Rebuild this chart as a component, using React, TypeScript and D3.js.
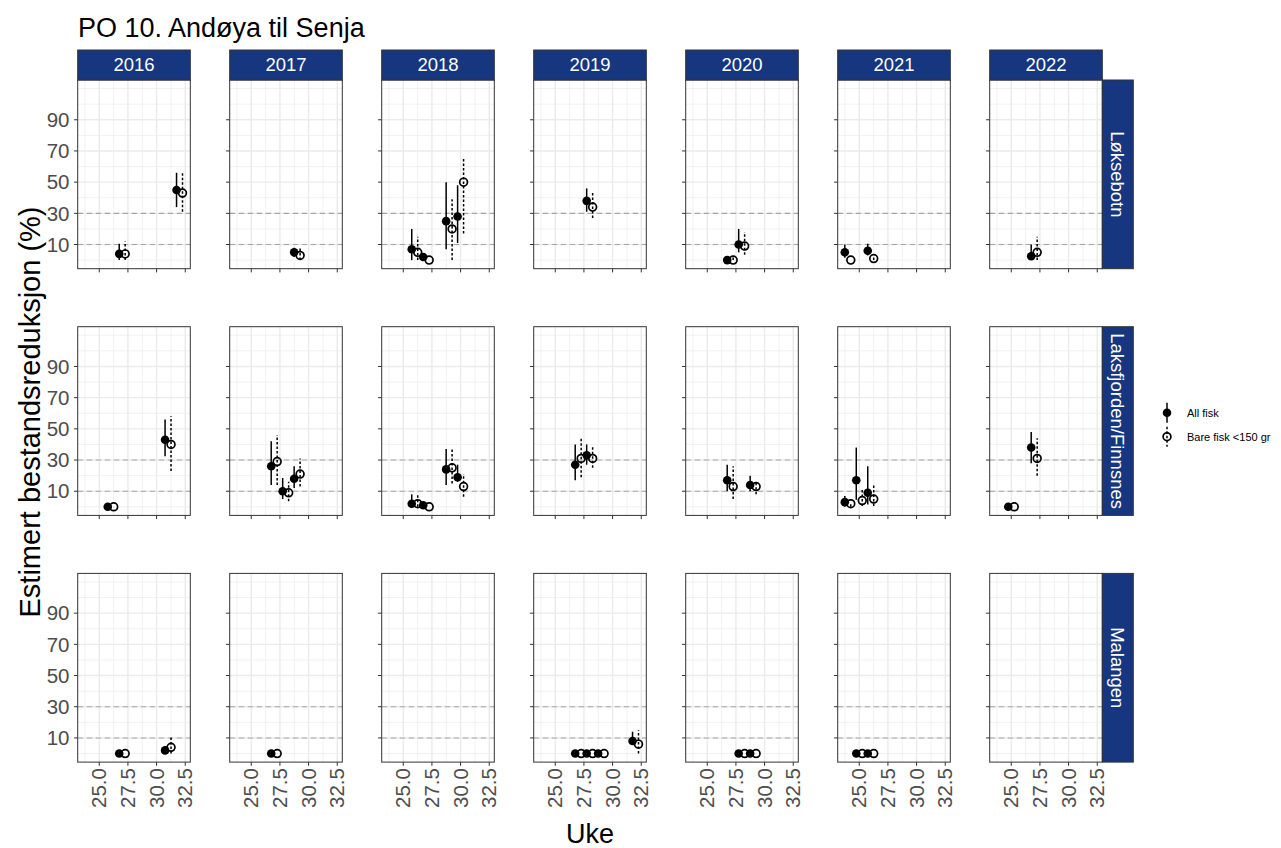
import React from "react";
import * as d3 from "d3";

const title = "PO 10. Andøya til Senja";
const yTitle = "Estimert bestandsreduksjon (%)";
const xTitle = "Uke";
const years = [2016, 2017, 2018, 2019, 2020, 2021, 2022];
const sites = ["Løksebotn", "Laksfjorden/Finnsnes", "Malangen"];
const groups = ["All fisk", "Bare fisk <150 gr"];
const yTicks = [10, 30, 50, 70, 90];
const yMinor = [0, 20, 40, 60, 80, 100, 110];
const xTicks = [25, 27.5, 30, 32.5];
const xMinor = [23.75, 26.25, 28.75, 31.25];
const refLines = [10, 30];

// rows: [year, week, estimate, lower, upper]
const loksebotnAll = [
  [2016, 27, 4, 0, 10.5], [2016, 32, 45, 34, 56],
  [2017, 29, 5, 2, 8],
  [2018, 26, 7, 0, 20], [2018, 27, 2, 0, 4], [2018, 29, 25, 7, 50], [2018, 30, 28, 11, 48],
  [2019, 28, 38, 31, 46],
  [2020, 27, 0, 0, 0], [2020, 28, 10, 5, 20],
  [2021, 24, 5, 1.5, 10], [2021, 26, 6, 3, 10.5],
  [2022, 27, 2.5, 0, 10],
];
const loksebotnSmall = [
  [2016, 27, 4, 0, 12], [2016, 32, 43, 31, 56],
  [2017, 29, 3, 0, 8],
  [2018, 26, 5, 0, 15], [2018, 27, 0, 0, 0], [2018, 29, 20, 0, 39], [2018, 30, 50, 17, 66],
  [2019, 28, 34, 27, 44],
  [2020, 27, 0, 0, 2], [2020, 28, 9, 3.5, 18],
  [2021, 24, 0, 0, 0], [2021, 26, 1, 0, 3],
  [2022, 27, 5, 0, 15],
];
const laksfjordenAll = [
  [2016, 26, 0, 0, 0], [2016, 31, 43, 32.5, 56],
  [2017, 27, 26, 14, 42], [2017, 28, 10, 5, 18.5], [2017, 29, 18, 12, 26],
  [2018, 26, 2, 0, 8], [2018, 27, 1, 0, 2], [2018, 29, 24, 14, 37], [2018, 30, 19, 16, 27],
  [2019, 27, 27, 17, 40], [2019, 28, 33, 27, 40],
  [2020, 27, 17, 10, 27], [2020, 29, 14, 10, 20],
  [2021, 24, 3, 0, 7], [2021, 25, 17, 4.5, 38], [2021, 26, 9, 1.5, 26],
  [2022, 25, 0, 0, 0], [2022, 27, 38, 28, 48],
];
const laksfjordenSmall = [
  [2016, 26, 0, 0, 0], [2016, 31, 40, 23, 58],
  [2017, 27, 29, 14, 46], [2017, 28, 9, 3.5, 16], [2017, 29, 21, 13, 31],
  [2018, 26, 2, 0, 8], [2018, 27, 0, 0, 0], [2018, 29, 25, 15, 37], [2018, 30, 13, 6.5, 21],
  [2019, 27, 31, 19, 44.5], [2019, 28, 31, 25, 39],
  [2020, 27, 13, 5, 26], [2020, 29, 13, 8, 16],
  [2021, 24, 2, 0, 3], [2021, 25, 4, 0.5, 11.5], [2021, 26, 5, 0.5, 14],
  [2022, 25, 0, 0, 0], [2022, 27, 31, 20, 44],
];
const malangenAll = [
  [2016, 27, 0, 0, 0], [2016, 31, 2, 0, 4],
  [2017, 27, 0, 0, 0],
  [2019, 27, 0, 0, 0], [2019, 28, 0, 0, 0], [2019, 29, 0, 0, 0], [2019, 32, 8, 6, 14],
  [2020, 28, 0, 0, 0], [2020, 29, 0, 0, 0],
  [2021, 25, 0, 0, 0], [2021, 26, 0, 0, 0],
];
const malangenSmall = [
  [2016, 27, 0, 0, 0], [2016, 31, 4, 0, 11],
  [2017, 27, 0, 0, 0],
  [2019, 27, 0, 0, 0], [2019, 28, 0, 0, 0], [2019, 29, 0, 0, 0], [2019, 32, 6, 0, 15],
  [2020, 28, 0, 0, 0], [2020, 29, 0, 0, 0],
  [2021, 25, 0, 0, 0], [2021, 26, 0, 0, 0],
];

const seriesBySite = [
  [loksebotnAll, loksebotnSmall],
  [laksfjordenAll, laksfjordenSmall],
  [malangenAll, malangenSmall],
];

const FONT = "'Liberation Sans', Arial, Helvetica, sans-serif";
const STRIP = "#163680";
const TICK_COL = "#4d4d4d";
const BORDER = "#333333";
const GRID = "#ebebeb";

const W = 1281;
const H = 848;
const panelLeft0 = 77.7;
const panelW = 112.6;
const colStep = 152;
const panelTop0 = 80;
const panelH = 188.7;
const rowStep = 246.7;
const stripH = 30;
const stripW = 31;
const dodge = 0.26;

export default function App() {
  const x = d3.scaleLinear().domain([23.12, 32.94]).range([0, panelW]);
  const y = d3.scaleLinear().domain([-5.5, 115.5]).range([panelH, 0]);

  const panels: any[] = [];
  sites.forEach((site, r) => {
    years.forEach((year, c) => {
      const px = panelLeft0 + c * colStep;
      const py = panelTop0 + r * rowStep;
      const [allRows, smallRows] = seriesBySite[r];
      const allP = allRows.filter((d) => d[0] === year);
      const smallP = smallRows.filter((d) => d[0] === year);
      panels.push(
        <g key={`p-${r}-${c}`} transform={`translate(${px},${py})`}>
          <rect x={0} y={0} width={panelW} height={panelH} fill="#fff" />
          {yMinor.map((v) => (
            <line key={`ym${v}`} x1={0} x2={panelW} y1={y(v)} y2={y(v)} stroke={GRID} strokeWidth={0.7} />
          ))}
          {xMinor.map((v) => (
            <line key={`xm${v}`} y1={0} y2={panelH} x1={x(v)} x2={x(v)} stroke={GRID} strokeWidth={0.7} />
          ))}
          {yTicks.map((v) => (
            <line key={`yM${v}`} x1={0} x2={panelW} y1={y(v)} y2={y(v)} stroke={GRID} strokeWidth={1.4} />
          ))}
          {xTicks.map((v) => (
            <line key={`xM${v}`} y1={0} y2={panelH} x1={x(v)} x2={x(v)} stroke={GRID} strokeWidth={1.4} />
          ))}
          {refLines.map((v) => (
            <line key={`ref${v}`} x1={0} x2={panelW} y1={y(v)} y2={y(v)} stroke="#a6a6a6" strokeWidth={1.1} strokeDasharray="5.5,3.5" />
          ))}
          {allP.map((d, i) => (
            <line key={`al${i}`} x1={x(d[1] - dodge)} x2={x(d[1] - dodge)} y1={y(d[3])} y2={y(d[4])} stroke="#000" strokeWidth={1.5} />
          ))}
          {smallP.map((d, i) => (
            <line key={`sl${i}`} x1={x(d[1] + dodge)} x2={x(d[1] + dodge)} y1={y(d[3])} y2={y(d[4])} stroke="#000" strokeWidth={1.5} strokeDasharray="2.5,2" />
          ))}
          {allP.map((d, i) => (
            <circle key={`ap${i}`} cx={x(d[1] - dodge)} cy={y(d[2])} r={4.3} fill="#000" />
          ))}
          {smallP.map((d, i) => (
            <circle key={`sp${i}`} cx={x(d[1] + dodge)} cy={y(d[2])} r={3.9} fill="none" stroke="#000" strokeWidth={1.7} />
          ))}
          <rect x={0} y={0} width={panelW} height={panelH} fill="none" stroke={BORDER} strokeWidth={1} />
          {yTicks.map((v) => (
            <line key={`yt${v}`} x1={-3.7} x2={0} y1={y(v)} y2={y(v)} stroke={BORDER} strokeWidth={1} />
          ))}
          {xTicks.map((v) => (
            <line key={`xt${v}`} x1={x(v)} x2={x(v)} y1={panelH} y2={panelH + 3.7} stroke={BORDER} strokeWidth={1} />
          ))}
          {c === 0 &&
            yTicks.map((v) => (
              <text key={`yl${v}`} x={-8.2} y={y(v)} dy="0.35em" textAnchor="end" fontSize={20.5} fill={TICK_COL} fontFamily={FONT}>
                {v}
              </text>
            ))}
          {r === sites.length - 1 &&
            xTicks.map((v) => (
              <text
                key={`xl${v}`}
                transform={`translate(${x(v)},${panelH + 6}) rotate(-90)`}
                textAnchor="end"
                dy="0.35em"
                fontSize={20.5}
                fill={TICK_COL}
                fontFamily={FONT}
              >
                {v.toFixed(1)}
              </text>
            ))}
          {r === 0 && (
            <g>
              <rect x={0} y={-stripH} width={panelW} height={stripH} fill={STRIP} stroke={BORDER} strokeWidth={1} />
              <text x={panelW / 2} y={-stripH / 2} dy="0.35em" textAnchor="middle" fontSize={18.5} fill="#fff" fontFamily={FONT}>
                {year}
              </text>
            </g>
          )}
          {c === years.length - 1 && (
            <g>
              <rect x={panelW} y={0} width={stripW} height={panelH} fill={STRIP} stroke={BORDER} strokeWidth={1} />
              <text
                transform={`translate(${panelW + stripW / 2},${panelH / 2}) rotate(90)`}
                dy="0.35em"
                textAnchor="middle"
                fontSize={18.5}
                fill="#fff"
                fontFamily={FONT}
              >
                {site}
              </text>
            </g>
          )}
        </g>
      );
    });
  });

  const plotCenterX = panelLeft0 + ((years.length - 1) * colStep + panelW) / 2;
  const legX = 1167;
  const legY = [412.7, 436.7];

  return (
    <svg width={W} height={H} style={{ position: "absolute", left: 0, top: 0, background: "#fff" }} fontFamily={FONT}>
      <rect x={0} y={0} width={W} height={H} fill="#fff" />
      <text x={78} y={37} fontSize={27} fill="#000">
        {title}
      </text>
      {panels}
      <text x={plotCenterX} y={843} textAnchor="middle" fontSize={27} fill="#000">
        {xTitle}
      </text>
      <text transform={`translate(40,412) rotate(-90)`} textAnchor="middle" fontSize={29} fill="#000">
        {yTitle}
      </text>
      {groups.map((g, i) => (
        <g key={g}>
          <line
            x1={legX}
            x2={legX}
            y1={legY[i] - 10}
            y2={legY[i] + 10}
            stroke="#000"
            strokeWidth={1.5}
            strokeDasharray={i === 1 ? "2.5,2" : undefined}
          />
          {i === 0 ? (
            <circle cx={legX} cy={legY[i]} r={4.3} fill="#000" />
          ) : (
            <circle cx={legX} cy={legY[i]} r={3.9} fill="none" stroke="#000" strokeWidth={1.7} />
          )}
          <text x={1187} y={legY[i]} dy="0.35em" fontSize={11} fill="#000">
            {g}
          </text>
        </g>
      ))}
    </svg>
  );
}
